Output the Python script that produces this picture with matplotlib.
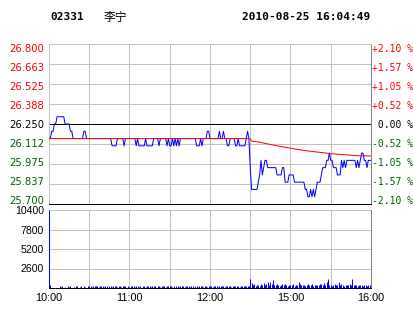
import matplotlib
matplotlib.use("Agg")
import matplotlib.pyplot as plt
import matplotlib.transforms as mtrans
import numpy as np

# ---- data ----
code = "02331"
name = "李宁"
stamp = "2010-08-25 16:04:49"
preclose = 26.25

# last price, one value per minute, 10:00-12:29
price_am = [
    26.15, 26.15, 26.20, 26.20, 26.25, 26.25, 26.30, 26.30, 26.30, 26.30,
    26.30, 26.30, 26.25, 26.25, 26.25, 26.25, 26.20, 26.20, 26.15, 26.15,
    26.15, 26.15, 26.15, 26.15, 26.15, 26.15, 26.20, 26.20, 26.15, 26.15,
    26.15, 26.15, 26.15, 26.15, 26.15, 26.15, 26.15, 26.15, 26.15, 26.15,
    26.15, 26.15, 26.15, 26.15, 26.15, 26.15, 26.15, 26.10, 26.10, 26.10,
    26.10, 26.15, 26.15, 26.15, 26.15, 26.15, 26.10, 26.15, 26.15, 26.15,
    26.15, 26.15, 26.15, 26.15, 26.15, 26.10, 26.15, 26.10, 26.10, 26.10,
    26.10, 26.10, 26.15, 26.10, 26.10, 26.10, 26.10, 26.10, 26.15, 26.15,
    26.15, 26.15, 26.10, 26.15, 26.15, 26.15, 26.15, 26.15, 26.10, 26.15,
    26.10, 26.10, 26.15, 26.10, 26.15, 26.10, 26.15, 26.10, 26.15, 26.15,
    26.15, 26.15, 26.15, 26.15, 26.15, 26.15, 26.15, 26.15, 26.15, 26.15,
    26.10, 26.10, 26.10, 26.15, 26.10, 26.15, 26.15, 26.15, 26.20, 26.20,
    26.15, 26.15, 26.15, 26.15, 26.15, 26.15, 26.15, 26.20, 26.15, 26.15,
    26.20, 26.15, 26.15, 26.10, 26.10, 26.15, 26.15, 26.15, 26.15, 26.10,
    26.10, 26.15, 26.10, 26.10, 26.10, 26.10, 26.10, 26.15, 26.20, 26.15,
]
# 14:30-16:00
price_pm = [
    25.95, 25.80, 25.80, 25.80, 25.80, 25.80, 25.85, 25.90, 26.00, 25.90,
    25.95, 26.00, 26.00, 25.95, 25.95, 25.95, 25.95, 25.95, 25.95, 25.95,
    25.90, 25.90, 25.90, 25.90, 25.95, 25.95, 25.85, 25.85, 25.85, 25.90,
    25.90, 25.90, 25.90, 25.85, 25.85, 25.85, 25.85, 25.85, 25.85, 25.85,
    25.85, 25.80, 25.80, 25.75, 25.75, 25.80, 25.75, 25.80, 25.75, 25.80,
    25.85, 25.85, 25.85, 25.90, 25.95, 25.95, 25.95, 26.00, 26.00, 26.05,
    26.00, 26.00, 25.95, 25.95, 25.95, 25.90, 25.90, 25.90, 26.00, 25.95,
    26.00, 25.95, 26.00, 26.00, 26.00, 26.00, 26.00, 26.00, 26.00, 25.95,
    26.00, 25.95, 26.00, 26.05, 26.05, 26.00, 26.00, 25.95, 26.00, 26.00,
    26.00,
]

# average price line (minute, value)
avg_min = [0, 150, 151, 157, 163, 170, 178, 190, 200, 210, 220, 230, 240]
avg_val = [26.15, 26.15, 26.132, 26.125, 26.113, 26.10, 26.087, 26.068,
           26.057, 26.046, 26.039, 26.032, 26.03]

vol_am = [
    10400, 360, 0, 0, 0, 0, 0, 0, 230, 200, 230, 0, 200, 0, 230, 200,
    230, 0, 0, 200, 230, 230, 0, 200, 230, 0, 230, 200, 0, 230,
    230, 230, 200, 230, 230, 230, 230, 200, 230, 230, 230, 200, 230, 230, 0,
    230, 230, 200, 230, 230, 230, 200, 230, 230, 200, 230, 230, 230, 0, 230,
    200, 230, 230, 230, 200, 230, 230, 200, 230, 0, 230, 230, 200, 230, 230,
    230, 200, 230, 230, 230, 0, 230, 230, 200, 230, 230, 230, 200, 230, 230,
    230, 230, 200, 230, 0, 230, 230, 200, 230, 230, 230, 200, 230, 230, 230,
    200, 230, 230, 0, 230, 230, 200, 230, 230, 300, 200, 230, 230, 200, 230,
    230, 300, 200, 230, 230, 230, 200, 230, 300, 230, 230, 200, 230, 230, 300,
    230, 200, 300, 230, 230, 300, 230, 200, 300, 230, 230, 300, 230, 300, 230,
]
vol_pm = [
    1200, 700, 400, 500, 300, 450, 400, 300, 500, 350,
    650, 400, 500, 750, 400, 850, 500, 1080, 400, 350,
    500, 450, 300, 400, 550, 350, 500, 400, 300, 450,
    400, 350, 500, 300, 450, 400, 810, 500, 350, 400,
    450, 300, 400, 600, 350, 400, 500, 300, 450, 400,
    350, 400, 500, 600, 400, 700, 350, 750, 1200, 400,
    450, 300, 400, 500, 350, 400, 800, 350, 600, 400,
    300, 450, 400, 350, 500, 400, 1200, 450, 400, 350,
    300, 450, 400, 350, 300, 350, 400, 300, 350, 400,
    700,
]

price_levels = [25.700, 25.8375, 25.975, 26.1125, 26.250, 26.3875, 26.525, 26.6625, 26.800]
left_labels = ["25.700", "25.837", "25.975", "26.112", "26.250",
               "26.388", "26.525", "26.663", "26.800"]
right_labels = ["-2.10 %", "-1.57 %", "-1.05 %", "-0.52 %", " 0.00 %",
                "+0.52 %", "+1.05 %", "+1.57 %", "+2.10 %"]
vol_ticks = [2600, 5200, 7800, 10400]
hours = ["10:00", "11:00", "12:00", "15:00", "16:00"]
hour_pos = [0, 60, 120, 180, 240]

price = price_am + price_pm
vol = vol_am + vol_pm
minutes = np.arange(len(price))

RED = "#ff0000"
GREEN = "#006000"
GRID = "#c0c0c0"
px = 72.0 / 100


def level_color(v):
    if v > preclose + 1e-6:
        return RED
    if v < preclose - 1e-6:
        return GREEN
    return "black"


fig = plt.figure(figsize=(4.14, 3.14), dpi=100)
W, H = 414.0, 314.0
ax = fig.add_axes([49 / W, (H - 204) / H, 322 / W, 160 / H])
axv = fig.add_axes([49 / W, (H - 288) / H, 322 / W, 78 / H])

# price panel
ax.plot(minutes, price, color="#0000ff", lw=px, zorder=3)
ax.plot(avg_min, avg_val, color=RED, lw=px, zorder=4)
ax.axhline(preclose, color="black", lw=px, zorder=2)
ax.set_xlim(0, 240)
ax.set_ylim(price_levels[0], price_levels[-1])
ax.set_yticks(price_levels)
ax.set_yticklabels(left_labels, family="DejaVu Sans", fontsize=7.2)
ax.set_xticks(range(0, 241, 30))
ax.set_xticklabels([])
ax.tick_params(length=0, pad=3.6)
ax.grid(True, color=GRID, lw=px, zorder=0)
for s in ["top", "left"]:
    ax.spines[s].set_color(GRID)
ax.spines["right"].set_color("#808080")
ax.spines["bottom"].set_color("black")
for s in ax.spines.values():
    s.set_linewidth(px)

tw = ax.twinx()
tw.set_ylim(price_levels[0], price_levels[-1])
tw.set_yticks(price_levels)
tw.set_yticklabels(right_labels, family="DejaVu Sans Mono", fontsize=7)
tw.tick_params(length=0, pad=1)
for s in tw.spines.values():
    s.set_visible(False)

# labels sit a bit tighter than the grid lines, nudge each one (1 px per step)
for labs in (ax.get_yticklabels(), tw.get_yticklabels()):
    for i, (lab, v) in enumerate(zip(labs, price_levels)):
        lab.set_color(level_color(v))
        shift = mtrans.ScaledTranslation(0, (4 - i) / 100.0, fig.dpi_scale_trans)
        lab.set_transform(lab.get_transform() + shift)

# volume panel
axv.vlines(minutes, 0, vol, color="#0000ff", lw=px, zorder=3)
axv.set_xlim(0, 240)
axv.set_ylim(0, 10400)
axv.set_yticks(vol_ticks)
axv.set_yticklabels([str(v) for v in vol_ticks], family="Liberation Sans", fontsize=7.6)
axv.set_xticks(range(0, 241, 30))
axv.set_xticklabels([hours[hour_pos.index(t)] if t in hour_pos else "" for t in range(0, 241, 30)],
                    family="Liberation Sans", fontsize=7.8)
axv.tick_params(length=0, pad=3.6)
axv.grid(True, color=GRID, lw=px, zorder=0)
axv.spines["top"].set_visible(False)
axv.spines["left"].set_color(GRID)
axv.spines["right"].set_color("#808080")
axv.spines["bottom"].set_color("black")
for s in axv.spines.values():
    s.set_linewidth(px)

# header
fig.text(50 / W, 1 - 17 / H, code, family="DejaVu Sans Mono", weight="bold",
         fontsize=8, va="center", ha="left")
fig.text(104 / W, 1 - 17 / H, name, family=["Noto Sans CJK SC", "DejaVu Sans"],
         fontsize=8.5, va="center", ha="left")
fig.text(370 / W, 1 - 17 / H, stamp, family="DejaVu Sans Mono", weight="bold",
         fontsize=8, va="center", ha="right")

fig.savefig("out.png", dpi=100)
